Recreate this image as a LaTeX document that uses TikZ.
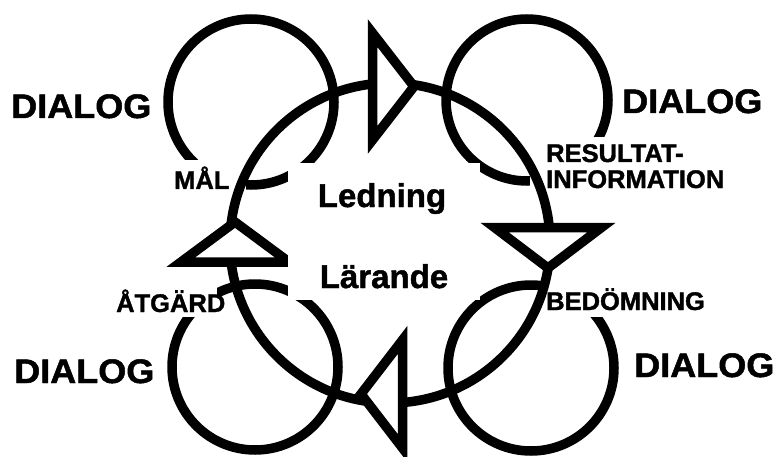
\documentclass[tikz,border=0pt]{standalone}
\usepackage{fontspec}
\setmainfont{Liberation Sans}[BoldFeatures={FakeBold=1.4}]
\newfontfamily\widesans{Liberation Sans}[FakeStretch=1.06, BoldFeatures={FakeBold=1.4}]
\usetikzlibrary{positioning}
\tikzset{
  ring/.style={line width=9.5pt},
  arrowtri/.style={draw, fill=white, line width=9.5pt, line join=miter},
  cover/.style={fill=white},
  dialog/.style={font=\widesans\bfseries\fontsize{34}{36}\selectfont, inner sep=0pt, anchor=base west},
  steplabel/.style={font=\bfseries\fontsize{25.5}{26}\selectfont, inner sep=0pt, anchor=base west, align=left},
  hublabel/.style={font=\bfseries\fontsize{33}{36}\selectfont, inner sep=0pt, anchor=base},
}

\begin{document}
\begin{tikzpicture}[x=1pt,y=-1pt, line cap=butt]
    \useasboundingbox (0,0) rectangle (778,457);
    % dialog rings
    \draw[ring] (251,102) circle (83);
    \draw[ring] (527,100) circle (81);
    \draw[ring] (255,367) circle (83);
    \draw[ring] (531,368) circle (83);
    % label backgrounds
    \fill[cover] (160,160) rectangle (246,196);
    \fill[cover] (530,137) rectangle (745,196);
    \fill[cover] (543,272) rectangle (720,317);
    \fill[cover] (110,285) rectangle (217,317);
    % main cycle
    \draw[ring] (390,243) circle (160);
    \foreach \ax/\ay/\bx/\by/\tx/\ty in {372.5/33/372.5/140/414/86.5,
        494.5/227.5/601.5/227.5/548/268,
        402.5/340/402.5/448/361/394,
        181/262/289/262/235/222} {
        \filldraw[arrowtri] (\ax,\ay) -- (\bx,\by) -- (\tx,\ty) -- cycle;
    }
    % centre
    \fill[cover] (288,163) rectangle (480,300);
    \node[hublabel] (ledning) at (382,207) {Ledning};
    \node[hublabel] (larande) at (384,288) {Lärande};
    % steps
    \node[steplabel] (mal) at (174,189) {MÅL};
    \node[steplabel] (resultat) at (546,188) {RESULTAT-\\INFORMATION};
    \node[steplabel] (bedomning) at (546,310) {BEDÖMNING};
    \node[steplabel] (atgard) at (116,312) {ÅTGÄRD};
    % dialog
    \node[dialog] (dialogtl) at (11,118) {DIALOG};
    \node[dialog] (dialogtr) at (622,113) {DIALOG};
    \node[dialog] (dialogbl) at (14,383) {DIALOG};
    \node[dialog] (dialogbr) at (634,377) {DIALOG};
\end{tikzpicture}
\end{document}
